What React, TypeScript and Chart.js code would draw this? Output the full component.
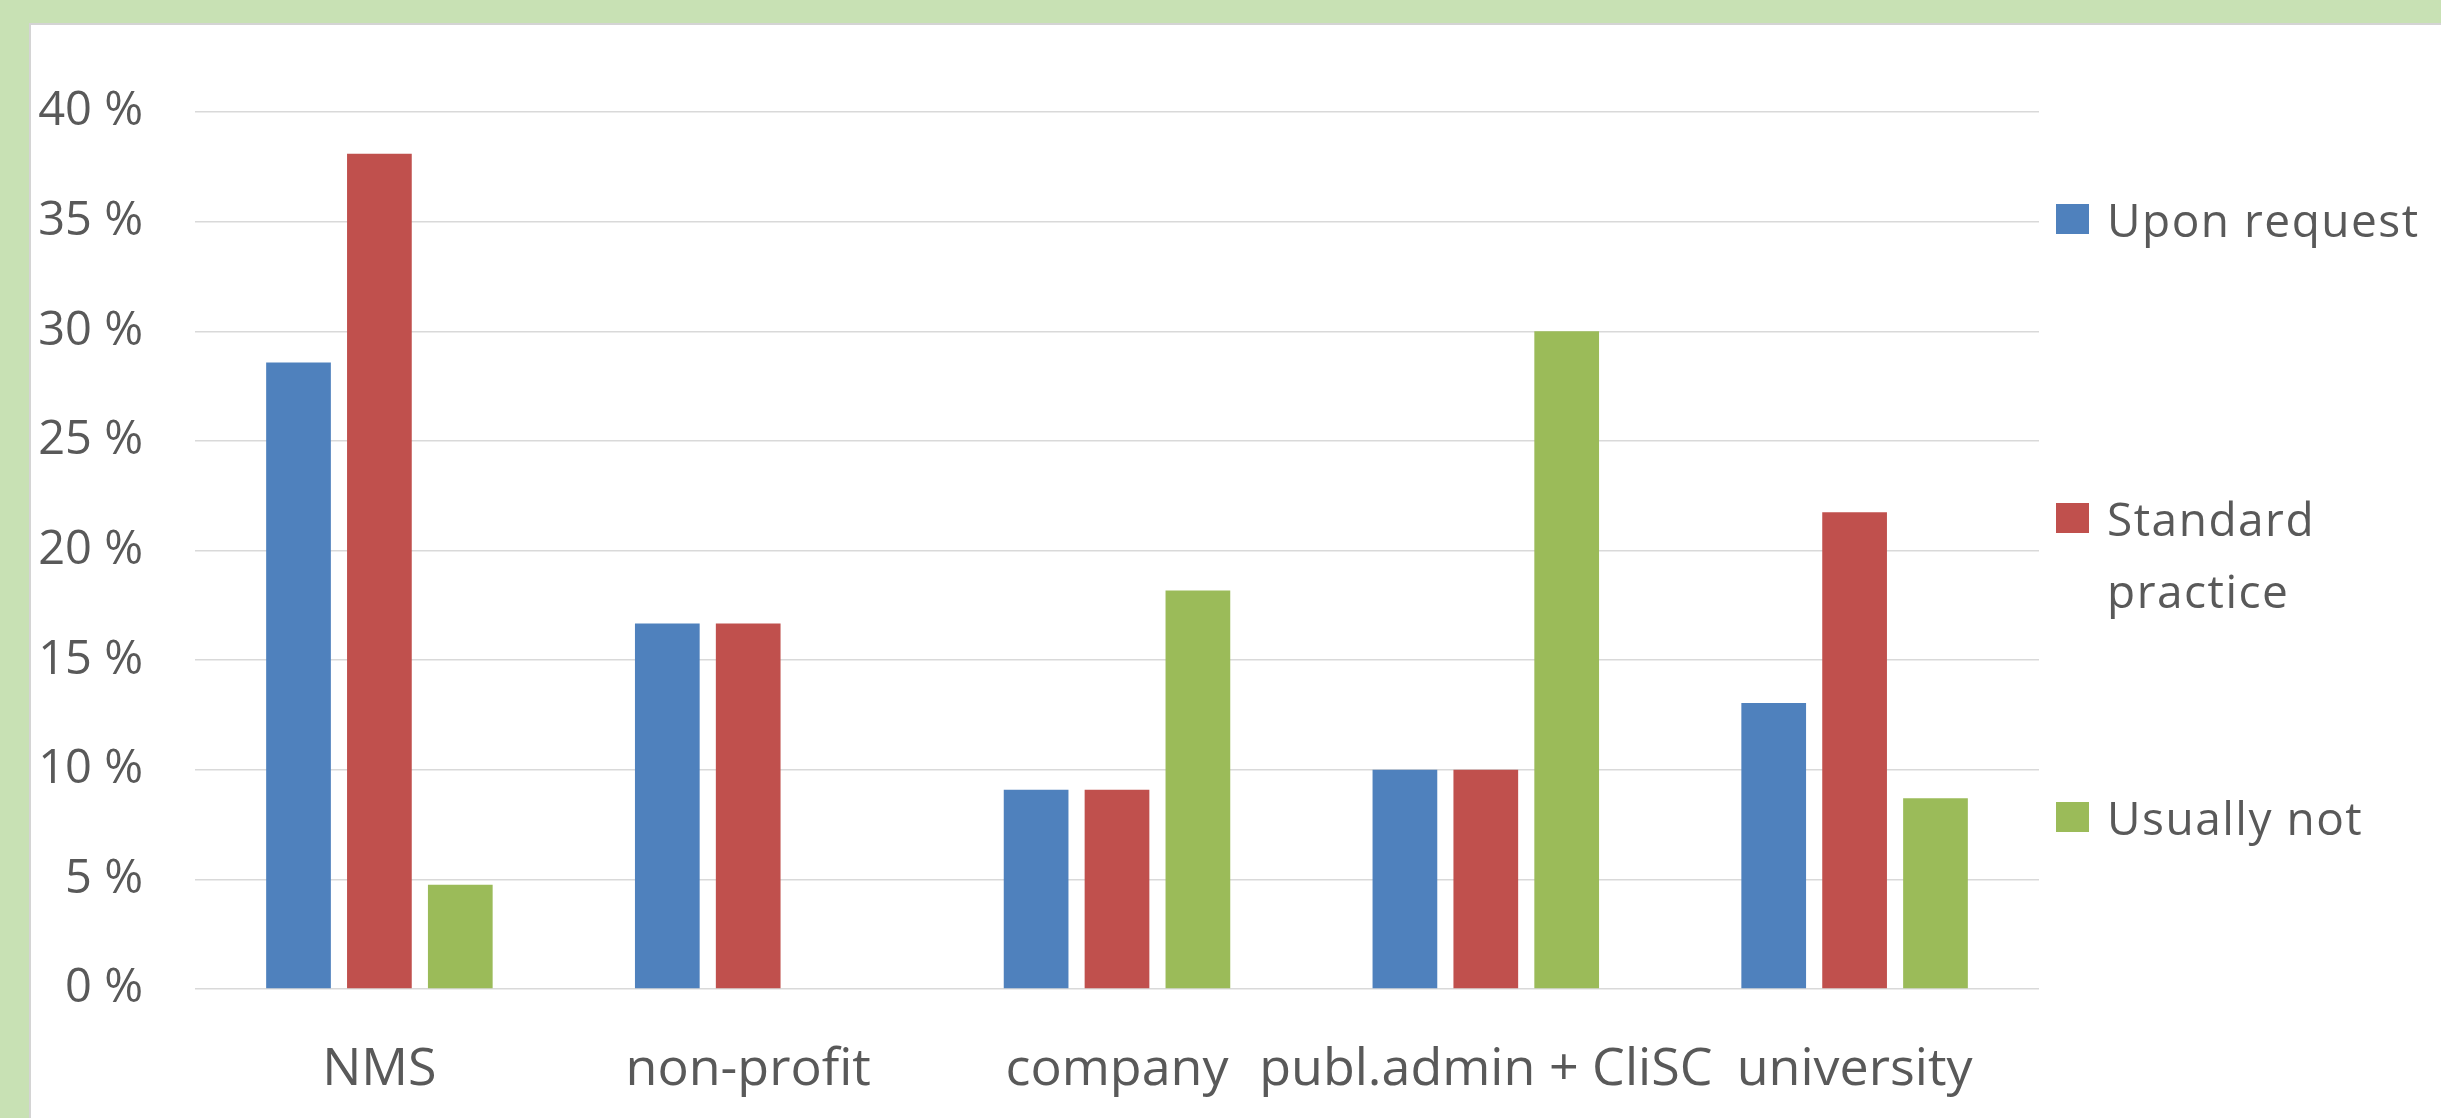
import React, { useEffect, useRef } from "react";
import { Chart, registerables } from "chart.js";

Chart.register(...registerables);

const categories = ["NMS", "non-profit", "company", "publ.admin + CliSC", "university"];
const seriesNames = ["Upon request", "Standard practice", "Usually not"];
const uponRequest = [28.57, 16.67, 9.09, 10.0, 13.04];
const standardPractice = [38.1, 16.67, 9.09, 10.0, 21.74];
const usuallyNot = [4.76, 0, 18.18, 30.0, 8.7];
const seriesColors = ["#4F81BD", "#C0504D", "#9BBB59"];
const yMin = 0;
const yMax = 40;
const yStep = 5;
const tickSuffix = " %";

const W = 2441;
const H = 1118;
const FONT = "'Open Sans', 'Noto Sans', sans-serif";
const TEXT = "#595959";

export default function App() {
  const ref = useRef<HTMLCanvasElement | null>(null);

  useEffect(() => {
    document.body.style.margin = "0";
    const canvas = ref.current;
    if (!canvas) return;
    const seriesValues = [uponRequest, standardPractice, usuallyNot];
    const chart = new Chart(canvas, {
      type: "bar",
      data: {
        labels: categories,
        datasets: seriesNames.map((name, i) => ({
          label: name,
          data: seriesValues[i],
          backgroundColor: seriesColors[i],
          borderWidth: 0,
          categoryPercentage: 0.658,
          barPercentage: 0.8,
        })),
      },
      options: {
        responsive: false,
        animation: false,
        devicePixelRatio: 1,
        layout: { padding: { left: 0, right: W - 2039, top: 112, bottom: 0 } },
        plugins: {
          legend: { display: false },
          tooltip: { enabled: false },
        },
        scales: {
          x: {
            grid: { display: false, drawTicks: false },
            border: { display: false },
            ticks: {
              color: TEXT,
              font: { family: FONT, size: 52 },
              padding: 50,
              maxRotation: 0,
              autoSkip: false,
            },
            afterFit: (s: any) => {
              s.height = H - 989;
            },
          },
          y: {
            min: yMin,
            max: yMax,
            grid: { color: "#D9D9D9", lineWidth: 1.5, drawTicks: false },
            border: { display: false },
            ticks: {
              stepSize: yStep,
              color: TEXT,
              font: { family: FONT, size: 47 },
              padding: 52,
              callback: (v: any) => `${v}${tickSuffix}`,
            },
            afterFit: (s: any) => {
              s.width = 195;
            },
          },
        },
      },
    });
    return () => chart.destroy();
  }, []);

  return (
    <div
      style={{
        position: "absolute",
        left: 0,
        top: 0,
        width: W,
        height: H,
        background: "#C8E1B4",
        overflow: "hidden",
      }}
    >
      <div
        style={{
          position: "absolute",
          left: 29,
          top: 23,
          right: 0,
          bottom: 0,
          background: "#FFFFFF",
          borderLeft: "2px solid #D4D4D4",
          borderTop: "2px solid #D4D4D4",
        }}
      />
      <canvas
        ref={ref}
        width={W}
        height={H}
        style={{ position: "absolute", left: 0, top: 0, width: W, height: H }}
      />
      {seriesNames.map((name, i) => (
        <div
          key={name}
          style={{
            position: "absolute",
            left: 2056,
            top: 183 + i * 299,
            display: "flex",
            alignItems: "flex-start",
          }}
        >
          <div
            style={{
              width: 33,
              height: 30,
              marginTop: 21,
              background: seriesColors[i],
              flex: "0 0 auto",
            }}
          />
          <div
            style={{
              marginLeft: 18,
              width: 330,
              fontFamily: FONT,
              fontSize: 46,
              lineHeight: "72px",
              letterSpacing: "1.5px",
              color: TEXT,
            }}
          >
            {name}
          </div>
        </div>
      ))}
    </div>
  );
}
